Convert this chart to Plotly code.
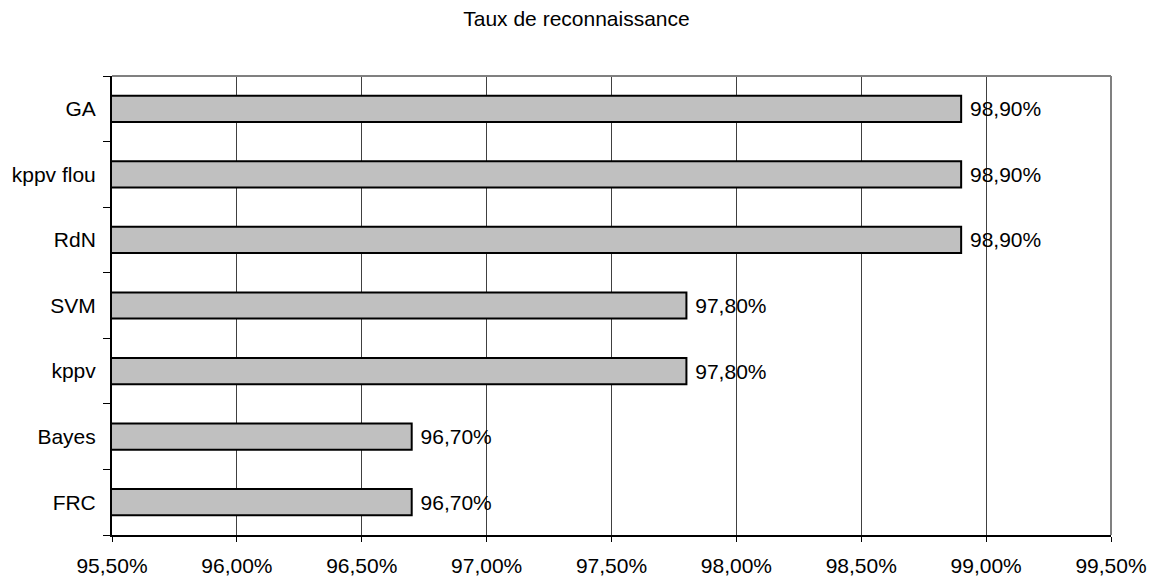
import plotly.graph_objects as go

categories = ["FRC", "Bayes", "kppv", "SVM", "RdN", "kppv flou", "GA"]
values = [96.7, 96.7, 97.8, 97.8, 98.9, 98.9, 98.9]
x_ticks = [95.5, 96.0, 96.5, 97.0, 97.5, 98.0, 98.5, 99.0, 99.5]
title_text = "Taux de reconnaissance"

labels = ["\u00a0" + f"{v:.2f}%".replace(".", ",") for v in values]
x_tick_text = [f"{v:.2f}%".replace(".", ",") for v in x_ticks]

font = dict(family="Liberation Sans, Arial, sans-serif", size=21, color="black")

fig = go.Figure()
fig.add_trace(go.Bar(
    y=categories,
    x=values,
    orientation="h",
    marker=dict(color="#C0C0C0", line=dict(color="black", width=2)),
    text=labels,
    textposition="outside",
    textfont=font,
    cliponaxis=False,
    hoverinfo="skip",
))

fig.update_layout(
    width=1153,
    height=578,
    margin=dict(l=112, r=42, t=76, b=43),
    paper_bgcolor="white",
    plot_bgcolor="white",
    font=font,
    bargap=0.6,
    showlegend=False,
    title=dict(text=title_text, x=0.5, xanchor="center", y=1 - 19 / 578, yanchor="middle",
               font=font),
    xaxis=dict(
        range=[95.5, 99.5],
        tickvals=x_ticks,
        ticktext=x_tick_text,
        showgrid=True,
        gridcolor="#404040",
        gridwidth=1,
        showline=True,
        linecolor="black",
        linewidth=2,
        ticks="outside",
        ticklen=5,
        tickcolor="black",
        ticklabelstandoff=6,
        zeroline=False,
        automargin=False,
        fixedrange=True,
    ),
    yaxis=dict(
        categoryorder="array",
        categoryarray=categories,
        showgrid=False,
        showline=True,
        linecolor="black",
        linewidth=2,
        ticks="outside",
        tickson="boundaries",
        ticklen=7,
        tickcolor="black",
        ticklabelstandoff=10,
        automargin=False,
        fixedrange=True,
    ),
    shapes=[
        dict(type="line", xref="paper", yref="paper", x0=0, x1=1, y0=1, y1=1,
             line=dict(color="#808080", width=2)),
        dict(type="line", xref="paper", yref="paper", x0=1, x1=1, y0=0, y1=1,
             line=dict(color="#808080", width=2)),
    ],
)

fig.write_html("out.html", post_script="document.body.style.margin='0';",
               config={"displayModeBar": False})
